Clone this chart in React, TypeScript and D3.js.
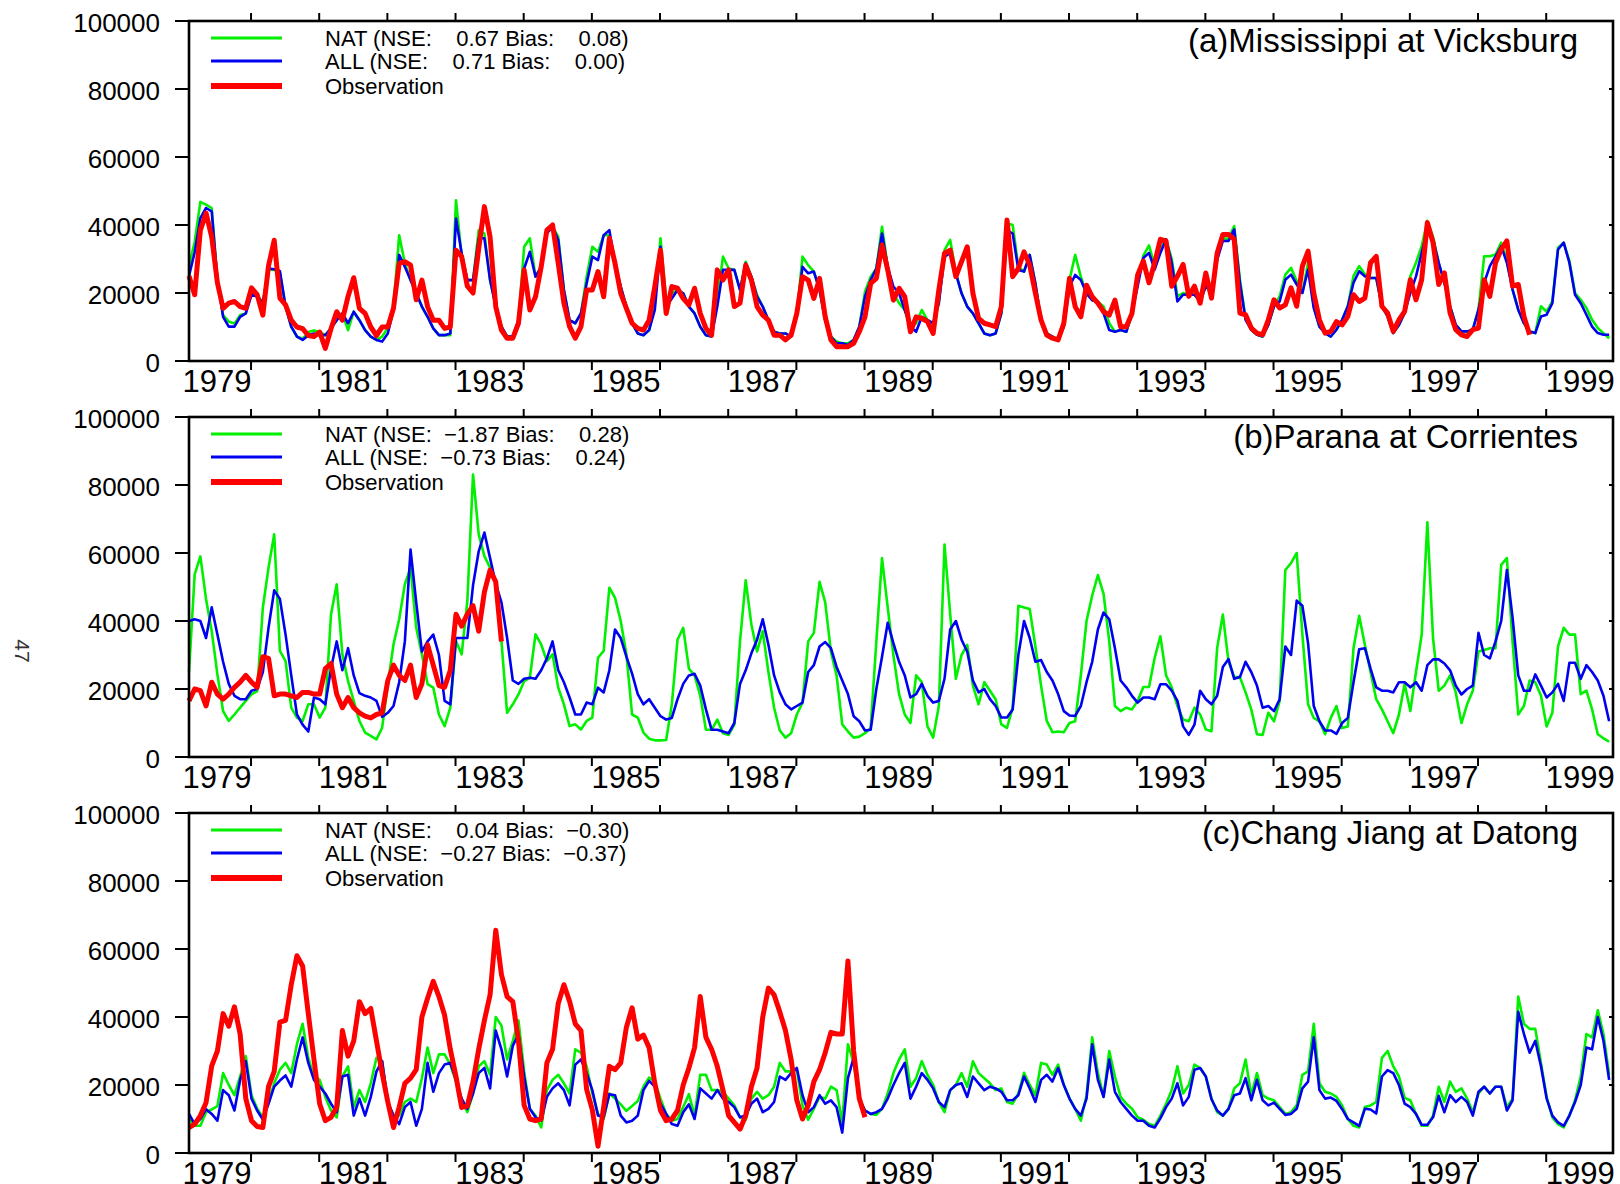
import * as d3 from "d3"

// ---- data (monthly discharge, m3/s) ----
const yTicks = [0, 20000, 40000, 60000, 80000, 100000]
const yearTicks = [1980, 1981, 1982, 1983, 1984, 1985, 1986, 1987, 1988, 1989, 1990, 1991, 1992, 1993, 1994, 1995, 1996, 1997, 1998, 1999]
const yearLabels = [1979, 1981, 1983, 1985, 1987, 1989, 1991, 1993, 1995, 1997, 1999]

const misNat = [
  28000, 35000, 46800, 46000, 45000, 23800, 13500, 11600, 11000, 13500, 14000, 20900,
  19000, 17500, 27200, 26800, 26000, 16000, 10100, 7200, 6500, 8500, 9000, 8600,
  7600, 9600, 12000, 14000, 9100, 14500, 12000, 9100, 7200, 6200, 7200, 9600,
  16000, 37000, 28700, 23800, 19900, 16000, 13000, 9600, 7600, 7600, 7600, 47300,
  30700, 23800, 23800, 38500, 37500, 23800, 16000, 10100, 7200, 7200, 12000, 33600,
  36100, 24800, 27700, 38500, 39500, 36600, 20900, 12000, 11100, 14000, 24800, 33600,
  32100, 37000, 37000, 28700, 21900, 16000, 11100, 8100, 7600, 9100, 17000, 36100,
  18000, 19900, 20900, 19900, 16000, 14000, 10100, 7600, 7200, 18000, 30700, 27200,
  26800, 20900, 29200, 24800, 19400, 16000, 12000, 8600, 8100, 8100, 7200, 14000,
  30700, 28200, 26300, 20900, 12000, 7200, 5700, 5200, 5200, 6200, 10100, 20400,
  24800, 27200, 39500, 27700, 19900, 17000, 15000, 10100, 11100, 15000, 12000, 11100,
  17000, 32600, 35600, 25800, 19900, 16000, 14000, 11100, 8100, 7600, 8100, 14000,
  40500, 40000, 27700, 26300, 31200, 22800, 12000, 8100, 7200, 6200, 10100, 23800,
  31200, 24800, 19900, 17900, 17400, 16000, 11100, 8600, 9100, 8600, 14000, 23000,
  31000, 34000, 28000, 33000, 35800, 30000, 19000, 20000, 19500, 19500, 17500, 22000,
  20000, 30500, 36000, 36000, 39700, 24000, 12500, 9200, 7700, 7200, 10600, 16100,
  19000, 25400, 27400, 23500, 20000, 28900, 16000, 10100, 8200, 7200, 9200, 12100,
  16100, 25000, 27900, 25500, 24400, 24400, 16100, 13100, 8200, 10600, 14100, 24900,
  28900, 33800, 41200, 36500, 28900, 23000, 16100, 10600, 8700, 8700, 9200, 15100,
  30800, 30800, 31300, 34800, 29500, 21000, 15100, 11100, 8700, 8200, 16100, 14500,
  17500, 33300, 34800, 29500, 20000, 18000, 15600, 12100, 9700, 8200, 6700,
]
const misAll = [
  25000, 32000, 42000, 45000, 44000, 23800, 13000, 10100, 10100, 13000, 14000, 19400,
  19000, 17000, 27200, 27000, 26500, 16000, 10100, 7200, 6200, 7600, 8100, 7600,
  7600, 9600, 12000, 14000, 11100, 14500, 12000, 9100, 7200, 6200, 5700, 8100,
  15000, 31200, 27700, 23800, 19900, 16000, 13000, 9600, 7600, 7600, 8100, 41900,
  31700, 23800, 23800, 36100, 36100, 23800, 16000, 10100, 7200, 7200, 12000, 27200,
  32100, 24800, 27700, 37500, 39500, 35600, 20900, 12000, 11100, 14000, 22800, 30700,
  29700, 37000, 38500, 28700, 21900, 16000, 11100, 8100, 7600, 9100, 15000, 33600,
  16000, 18400, 20900, 19900, 16000, 14000, 10100, 7600, 7200, 16000, 26800, 26800,
  26800, 20900, 28700, 24800, 18900, 16000, 12000, 8600, 8100, 8100, 7200, 14000,
  27700, 25800, 26300, 20900, 12000, 7200, 5200, 5200, 4700, 6200, 10100, 18900,
  23800, 27200, 37500, 27700, 21900, 19900, 15000, 10100, 8600, 13000, 12000, 11100,
  17000, 30700, 31700, 25800, 19900, 16000, 14000, 11100, 8100, 7600, 8100, 14000,
  38500, 37500, 26800, 26300, 31200, 22800, 12000, 8100, 7200, 6200, 10100, 21900,
  25300, 23800, 19900, 17900, 17400, 14000, 9100, 8600, 9100, 8600, 14000, 22000,
  30300, 31800, 26900, 31800, 35800, 28900, 17500, 19500, 19500, 19500, 17500, 22000,
  20000, 29800, 35300, 35300, 38700, 23000, 12100, 9200, 7700, 7200, 10600, 16100,
  17500, 23900, 25400, 22500, 20000, 26900, 15600, 10100, 8200, 7200, 9200, 12100,
  16100, 23000, 26400, 24900, 24400, 24400, 16100, 13100, 8200, 10600, 14100, 20000,
  24900, 31800, 38700, 35800, 28900, 23000, 16100, 10600, 8700, 8700, 9200, 15100,
  23000, 27900, 30800, 33800, 28900, 21000, 15100, 11100, 8700, 8200, 13100, 13600,
  17000, 32800, 34800, 28900, 19500, 17000, 13600, 10100, 8200, 7700, 7700,
]
const misObs = [
  25000, 19500, 38500, 43500, 36500, 23000, 15500, 17000, 17500, 16000, 15500, 21500,
  19500, 13500, 28000, 35500, 18500, 16500, 12000, 10000, 9500, 7500, 7200, 8500,
  3700, 9500, 14500, 12000, 19000, 24500, 15500, 14000, 10000, 7500, 10000, 10000,
  15500, 28700, 29200, 28200, 18000, 23800, 16000, 12000, 12000, 9600, 10000, 32600,
  30700, 22000, 20000, 33000, 45400, 36500, 16000, 9100, 6700, 6700, 11100, 26800,
  15000, 18900, 27700, 38500, 40000, 28700, 17000, 10100, 6700, 10100, 20900, 20900,
  26300, 18900, 36100, 28700, 19900, 15500, 11100, 9600, 9100, 12000, 21900, 32600,
  14000, 21900, 21400, 18400, 16500, 21400, 14000, 9600, 7600, 26800, 23800, 26800,
  16000, 17000, 28200, 23800, 16000, 13500, 12000, 7600, 7600, 6200, 7600, 14000,
  24800, 23800, 18400, 24300, 13000, 6200, 4200, 4200, 4200, 5200, 8600, 13000,
  22800, 24300, 34100, 26800, 17900, 21400, 18900, 8600, 13000, 12500, 11600, 8100,
  20900, 31700, 32600, 24800, 29200, 33600, 19900, 12500, 11100, 10600, 10100, 16000,
  41500, 24800, 27200, 32100, 28200, 19900, 12000, 7600, 6700, 6200, 11100, 24300,
  16000, 13000, 22300, 18900, 17000, 14500, 13500, 17900, 10100, 10100, 14000, 25300,
  29400, 23000, 28900, 35800, 35300, 22000, 24900, 28400, 19000, 22000, 17000, 25900,
  18500, 31800, 37200, 37200, 35800, 14100, 13600, 9700, 8200, 7700, 12100, 18000,
  15600, 16500, 21500, 16100, 27900, 32300, 20000, 12100, 8200, 8700, 11600, 10600,
  13100, 19500, 17500, 18500, 28900, 30800, 16100, 14100, 8700, 12100, 14600, 23900,
  18000, 23900, 40700, 34800, 22500, 25900, 14100, 9200, 7700, 7200, 9200, 9700,
  23900, 19000, 28900, 32800, 35300, 22000, 22500, 13100, 7700,
]

const parNat = [
  25000, 53700, 59000, 46500, 37000, 24300, 13500, 10600, 12500, 14500, 16500, 18400,
  19400, 43900, 55700, 65500, 31200, 28200, 14500, 11600, 10600, 15500, 15500, 11600,
  14500, 41900, 50800, 30200, 22300, 16500, 10600, 7200, 6200, 5200, 8600, 21400,
  33100, 40500, 50800, 55700, 38000, 30200, 21400, 20400, 12500, 9100, 14500, 34100,
  30200, 45900, 83100, 65500, 59100, 55700, 51700, 34100, 13000, 15500, 18400, 22300,
  23300, 36100, 33100, 28200, 30200, 20400, 15500, 9100, 9600, 8100, 10600, 11600,
  29200, 31200, 49800, 46800, 40000, 30200, 12500, 11600, 7200, 5400, 4900, 4900,
  5000, 15500, 34500, 38000, 26000, 24000, 18000, 8000, 8000, 11000, 7000, 6500,
  9500, 34000, 52000, 39000, 31000, 37000, 25000, 14500, 7800, 5700, 7000, 12500,
  16000, 34000, 36500, 51500, 45500, 31000, 24000, 9600, 7500, 5700, 6000, 7000,
  8500, 34000, 58500, 44000, 30000, 18500, 12500, 10000, 24000, 22000, 9000, 5700,
  15000, 62500, 42000, 23000, 30000, 33000, 21000, 15500, 22000, 19500, 17000, 9600,
  8600, 14500, 44500, 44000, 43500, 32500, 21000, 10600, 7300, 7500, 7300, 10000,
  10500, 24000, 40000, 47500, 53500, 48000, 34000, 15000, 13500, 14500, 14000, 16500,
  20600, 20600, 29200, 35500, 24000, 20500, 15000, 11000, 10500, 14500, 12500, 8100,
  7600, 32100, 41900, 28000, 23500, 23500, 19000, 14000, 6700, 6500, 13000, 10500,
  16500, 55000, 57000, 60000, 36000, 15500, 11500, 10500, 6700, 11500, 15000, 8500,
  9000, 32000, 41500, 33000, 25000, 17000, 14000, 10500, 7000, 12500, 21500, 13500,
  25000, 36000, 69000, 35000, 19500, 21000, 24000, 19000, 10000, 15500, 19500, 31000,
  31500, 32000, 32000, 56500, 58500, 34000, 12500, 15000, 22500, 22000, 18000, 9000,
  13000, 32500, 38000, 36000, 36000, 18500, 19500, 14000, 6700, 5500, 4500,
]
const parAll = [
  40000, 40500, 40000, 35000, 44000, 36000, 28000, 21500, 18000, 17000, 17000, 19500,
  20000, 25000, 38000, 49000, 46500, 36000, 24000, 12500, 9500, 7500, 17500, 17000,
  15500, 26000, 34000, 25500, 32000, 24000, 18800, 18000, 17500, 16500, 11800, 13000,
  15000, 22000, 34000, 61000, 45500, 31000, 34000, 36000, 30000, 16500, 15500, 35000,
  35000, 35000, 50500, 60500, 66000, 58500, 51000, 45500, 35000, 22500, 21500, 23000,
  23300, 23000, 25500, 29000, 34000, 25500, 22000, 17500, 12500, 12500, 16000, 15500,
  20400, 19000, 25500, 37500, 35000, 29500, 24500, 18500, 15500, 17000, 14500, 12000,
  11000, 11500, 17000, 21500, 24000, 24500, 21000, 14000, 8000, 8000, 7500, 7000,
  10000, 21500, 25500, 30500, 34500, 40500, 33000, 24000, 19000, 15500, 14000, 15000,
  16000, 25000, 27000, 32500, 33800, 32000, 26500, 22500, 18500, 12000, 10500, 7800,
  8000, 20000, 29500, 39500, 33500, 28000, 24000, 17500, 18500, 21500, 18000, 16000,
  16500, 23000, 37500, 40000, 34500, 31000, 22500, 19000, 20000, 17000, 15000, 11600,
  11600, 14000, 30000, 40000, 35000, 28000, 28500, 25000, 22500, 18500, 13500, 12200,
  12100, 15000, 22000, 28000, 37500, 42500, 40500, 32000, 22500, 20500, 18000, 16000,
  17500, 17500, 17000, 21400, 21400, 19500, 16500, 9000, 6500, 9500, 19500, 17000,
  15500, 18000, 26500, 28800, 23000, 23500, 28000, 25000, 21000, 14500, 15000, 13500,
  17000, 32500, 30000, 46000, 44500, 33500, 15000, 10500, 7800, 7800, 6800, 10000,
  11500, 22000, 31700, 32000, 26000, 20500, 19500, 19500, 19000, 22000, 22000, 20500,
  22000, 19500, 27000, 28700, 28700, 27500, 25500, 21000, 18400, 20000, 21000, 36500,
  30000, 29000, 34000, 40000, 55000, 41000, 24000, 19500, 19500, 24300, 21000, 17500,
  19000, 21500, 16500, 27700, 27700, 23000, 27000, 25000, 22500, 18000, 10500,
]
const parObs = [
  16500, 20000, 19500, 15000, 22000, 18500, 17000, 18500, 20500, 22000, 24000, 22000,
  20500, 29500, 29000, 18000, 18500, 18500, 18000, 17500, 19000, 19000, 18500, 18500,
  26000, 27500, 18500, 14500, 17500, 14500, 13000, 12000, 11500, 12500, 13000, 22500,
  27000, 24000, 22500, 27000, 17500, 21500, 33000, 27000, 21000, 20500, 25500, 42000,
  38500, 42000, 44500, 37000, 48500, 55000, 51500, 34000,
]

const chaNat = [
  10000, 8000, 8000, 12000, 12800, 13800, 23500, 20000, 17000, 22500, 28500, 17000,
  13000, 10500, 15000, 20500, 24500, 26500, 23500, 32000, 38000, 28000, 22500, 21500,
  16500, 12500, 10500, 22500, 25500, 13500, 18500, 15000, 20500, 28000, 27000, 15000,
  11000, 11000, 15000, 16000, 15000, 22000, 31000, 23500, 29000, 29000, 26000, 21000,
  15500, 12000, 17500, 25500, 27000, 23000, 40000, 37500, 27500, 33000, 39000, 24000,
  13000, 11000, 7500, 18500, 21500, 23000, 20500, 17500, 30500, 29500, 25500, 17500,
  11500, 10000, 17500, 16000, 14300, 12400, 13800, 15300, 19500, 22200, 21000, 16000,
  11500, 9500, 10000, 13500, 17300, 11000, 23000, 23000, 18500, 18500, 18000, 16000,
  14000, 10500, 9800, 16000, 18000, 16000, 17000, 19500, 26500, 24000, 24000, 24500,
  14000, 9800, 13000, 16500, 16000, 19500, 18500, 9000, 32000, 26500, 16000, 12500,
  11500, 11200, 13000, 17500, 23500, 27500, 30500, 19500, 22000, 27000, 23000, 20000,
  15000, 12000, 18500, 20000, 23500, 19500, 27000, 23500, 22000, 20500, 18500, 19000,
  15000, 14500, 17500, 23600, 20000, 17000, 26500, 26000, 23000, 26000, 20000, 16000,
  13000, 9500, 17000, 34000, 23500, 16500, 30000, 22500, 16500, 14500, 13000, 10500,
  9800, 8500, 8000, 11000, 14500, 18500, 25500, 17500, 20000, 26000, 25000, 22500,
  16000, 12000, 11000, 13000, 19000, 20500, 27500, 17000, 23500, 17000, 16000, 15500,
  13500, 11500, 12000, 14000, 23000, 24000, 38000, 20500, 18000, 17500, 16500, 14000,
  10000, 8000, 7500, 13500, 14000, 15000, 28000, 30000, 25500, 22500, 16200, 15500,
  11500, 8000, 8000, 11000, 19500, 15000, 21000, 18000, 19000, 16000, 12000, 17500,
  19500, 17500, 19500, 19500, 13500, 16000, 46000, 38000, 36500, 36500, 26500, 16500,
  10500, 8500, 7500, 11000, 15500, 22500, 35000, 34000, 42000, 35000, 23000,
]
const chaAll = [
  11500, 8500, 10000, 12900, 11500, 9500, 18500, 17000, 12500, 21500, 27000, 16000,
  12500, 9800, 14500, 19500, 21300, 22800, 19500, 27500, 34000, 26500, 21500, 19500,
  17500, 14500, 12000, 22500, 23000, 11000, 16000, 11000, 16500, 24000, 27000, 15000,
  11000, 8500, 13500, 15000, 8000, 13000, 26500, 18000, 23500, 26000, 26500, 21500,
  16000, 13000, 17500, 23500, 25000, 19000, 36000, 30500, 22500, 31500, 35000, 22500,
  13000, 10500, 9500, 16500, 19000, 20500, 18500, 14000, 26000, 27500, 23500, 18500,
  11000, 10500, 17300, 17000, 11000, 9000, 9500, 11000, 18500, 21200, 19500, 14500,
  11500, 8500, 8000, 12000, 14300, 10000, 19000, 17500, 16000, 18500, 16000, 15000,
  13500, 10500, 11000, 14500, 16000, 12000, 13000, 15000, 22500, 21500, 23500, 25000,
  17000, 12000, 13500, 17000, 14500, 15500, 13500, 6000, 22000, 28000, 16000, 12500,
  11500, 12000, 13000, 16000, 20000, 23500, 26500, 16000, 19500, 23500, 21500, 19000,
  15000, 13500, 18500, 20000, 20500, 16500, 22500, 20500, 18500, 19500, 19000, 18000,
  15500, 15500, 17000, 22500, 19000, 15000, 21500, 23000, 21000, 25000, 20000, 16000,
  13000, 11000, 16000, 32000, 21500, 16500, 27500, 18000, 15000, 13000, 11000, 9500,
  9500, 8000, 7500, 10200, 13500, 16000, 20500, 14000, 16500, 24500, 25000, 22500,
  15800, 12500, 11000, 13000, 17000, 17500, 22000, 15500, 21500, 15500, 14000, 14800,
  13000, 11200, 11500, 13000, 19000, 21000, 34000, 18500, 16000, 16300, 15300, 12900,
  10000, 9000, 8000, 13000, 12800, 11600, 22500, 24400, 23500, 20000, 14500, 13500,
  11500, 8300, 8300, 10500, 16800, 12000, 17000, 15000, 16500, 15000, 11000, 18000,
  19500, 17500, 19500, 19500, 12500, 15500, 41500, 35000, 29500, 33000, 25500, 16000,
  11000, 9000, 8000, 11000, 15000, 20000, 31000, 30500, 40000, 33000, 21500,
]
const chaObs = [
  7500, 8500, 11000, 14800, 25600, 30000, 41000, 37300, 43000, 35000, 16000, 9500,
  7800, 7500, 19500, 24000, 38500, 39000, 49500, 58000, 55000, 41000, 27500, 14500,
  9500, 10500, 13500, 36000, 28500, 33000, 44500, 41000, 42500, 33000, 23500, 15000,
  7500, 13500, 20500, 22000, 24500, 40000, 45500, 50500, 46000, 40500, 30500, 22500,
  13400, 13800, 21000, 30500, 39000, 46500, 65500, 52500, 46000, 44500, 33000, 14000,
  10000, 9500, 10000, 26500, 30500, 44000, 49500, 44600, 38000, 36000, 18700, 12700,
  2000, 13500, 25500, 24500, 26500, 37000, 42700, 33500, 34700, 31000, 20500, 12500,
  9500, 10000, 12500, 20000, 25000, 31000, 46000, 34000, 30500, 25500, 18500, 11000,
  9000, 7000, 11000, 19500, 25000, 40000, 48500, 46500, 41500, 36000, 27500, 15500,
  10000, 14000, 21000, 24500, 29500, 35500, 35000, 35000, 56500, 30000, 16000, 10500,
]

const titles = ["(a)Mississippi at Vicksburg", "(b)Parana at Corrientes", "(c)Chang Jiang at Datong"]
const natLabels = [
  "NAT (NSE:    0.67 Bias:    0.08)",
  "NAT (NSE:  \u22121.87 Bias:    0.28)",
  "NAT (NSE:    0.04 Bias:  \u22120.30)",
]
const allLabels = [
  "ALL (NSE:    0.71 Bias:    0.00)",
  "ALL (NSE:  \u22120.73 Bias:    0.24)",
  "ALL (NSE:  \u22120.27 Bias:  \u22120.37)",
]

const natSeries = [misNat, parNat, chaNat]
const allSeries = [misAll, parAll, chaAll]
const obsSeries = [misObs, parObs, chaObs]

const FONT = "'Liberation Sans', Arial, Helvetica, sans-serif"
const GREEN = "#00f000"
const BLUE = "#0000f0"
const RED = "#ff0000"

// first monthly value sits at this decimal year
const T0 = 1979.09

const x = d3.scaleLinear().domain([1979.09, 1999.98]).range([189, 1613])

function Panel({ k }: { k: number }) {
  const top = 21 + 396 * k
  const bottom = top + 340
  const y = d3.scaleLinear().domain([0, 100000]).range([bottom, top])
  const line = d3
    .line<number>()
    .x((_, i) => x(T0 + i / 12))
    .y(d => y(d))

  const legend = [
    { label: natLabels[k], color: GREEN, w: 3 },
    { label: allLabels[k], color: BLUE, w: 3 },
    { label: "Observation", color: RED, w: 6 },
  ]
  const legendY = [top + 17, top + 40, top + 65]

  return (
    <g>
      {/* y ticks + labels */}
      {yTicks.map(t => (
        <g key={"y" + t}>
          <line x1={175} x2={189} y1={y(t)} y2={y(t)} stroke="#000" strokeWidth={2} />
          <line x1={1609} x2={1613} y1={y(t)} y2={y(t)} stroke="#000" strokeWidth={2} />
          <text x={160} y={y(t) + 11} textAnchor="end" fontSize={26}>
            {t}
          </text>
        </g>
      ))}

      {/* year ticks, top and bottom, outward */}
      {yearTicks.map(yr => (
        <g key={"t" + yr}>
          <line x1={x(yr)} x2={x(yr)} y1={bottom} y2={bottom + 9} stroke="#000" strokeWidth={2} />
          <line x1={x(yr)} x2={x(yr)} y1={top} y2={top - 8} stroke="#000" strokeWidth={2} />
        </g>
      ))}
      {yearLabels.map(yr => (
        <text key={"l" + yr} x={x(yr + 0.5)} y={bottom + 31} textAnchor="middle" fontSize={31}>
          {yr}
        </text>
      ))}

      {/* series */}
      <path d={line(natSeries[k]) || ""} fill="none" stroke={GREEN} strokeWidth={2.6} strokeLinejoin="round" />
      <path d={line(allSeries[k]) || ""} fill="none" stroke={BLUE} strokeWidth={2.6} strokeLinejoin="round" />
      <path d={line(obsSeries[k]) || ""} fill="none" stroke={RED} strokeWidth={5} strokeLinejoin="round" />

      {/* frame */}
      <rect x={189} y={top} width={1613 - 189} height={340} fill="none" stroke="#000" strokeWidth={2.6} />

      {/* legend */}
      {legend.map((d, j) => (
        <g key={"lg" + j}>
          <line x1={211} x2={282} y1={legendY[j]} y2={legendY[j]} stroke={d.color} strokeWidth={d.w} />
          <text x={325} y={legendY[j] + 8} fontSize={22} style={{ whiteSpace: "pre" }} xmlSpace="preserve">
            {d.label}
          </text>
        </g>
      ))}

      <text x={1578} y={top + 31} textAnchor="end" fontSize={33}>
        {titles[k]}
      </text>
    </g>
  )
}

export default function App() {
  return (
    <svg
      width={1620}
      height={1184}
      style={{ position: "absolute", left: 0, top: 0, background: "#fff" }}
      fontFamily={FONT}
    >
      <rect width={1620} height={1184} fill="#fff" />
      <text transform="translate(15,651) rotate(90)" textAnchor="middle" fontSize={21} fill="#333">
        47
      </text>
      {[0, 1, 2].map(k => (
        <Panel key={k} k={k} />
      ))}
    </svg>
  )
}
